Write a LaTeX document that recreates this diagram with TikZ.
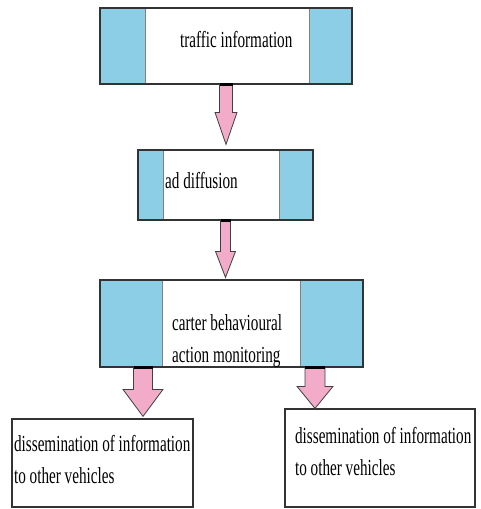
\documentclass[tikz,border=0pt]{standalone}
\usepackage{fontspec}
\setmainfont{Liberation Serif}
\usetikzlibrary{calc}

\definecolor{stripblue}{RGB}{140,206,230}
\definecolor{arrowpink}{RGB}{242,172,202}

\tikzset{
    box/.style={draw=black!80, line width=1.2pt, inner sep=0pt},
    strips/.style 2 args={path picture={
        \fill[stripblue] (path picture bounding box.north west) rectangle ([xshift=#1]path picture bounding box.south west);
        \fill[stripblue] (path picture bounding box.north east) rectangle ([xshift=-#2]path picture bounding box.south east);
        \draw[black!50, line width=1pt] ([xshift=#1]path picture bounding box.north west) -- ([xshift=#1]path picture bounding box.south west);
        \draw[black!50, line width=1pt] ([xshift=-#2]path picture bounding box.north east) -- ([xshift=-#2]path picture bounding box.south east);
    }},
    lbl/.style={font=\fontsize{23}{32}\selectfont, xscale=0.66, inner sep=0pt, anchor=base west, align=left},
    fat/.style={fill=arrowpink, draw=black!75, line width=0.8pt},
}

% block arrow: start, tip, half shaft, half head, head length
\newcommand\fatarrow[5]{%
    \draw[fat] ($(#1)+(-#3,0)$) -- ($(#2)+(-#3,-#5)$) -- ($(#2)+(-#4,-#5)$) -- (#2)
        -- ($(#2)+(#4,-#5)$) -- ($(#2)+(#3,-#5)$) -- ($(#1)+(#3,0)$) -- cycle;
    \draw[line width=2.5pt] ($(#1)+(-#3,0)$) -- ($(#1)+(#3,0)$);
}

\begin{document}
\begin{tikzpicture}[x=1pt, y=-1pt]
    \useasboundingbox (0,0) rectangle (481,509);

    % Boxes
    \node[box, strips={45pt}{43pt}, minimum width=252pt, minimum height=76pt] (info) at (226,46) {};
    \node[box, strips={25pt}{34pt}, minimum width=175pt, minimum height=70pt] (diff) at (225.5,185) {};
    \node[box, strips={62pt}{63pt}, minimum width=263pt, minimum height=87pt] (monitor) at (231.5,323.5) {};
    \node[box, minimum width=181pt, minimum height=88pt] (leftout) at (102.5,463) {};
    \node[box, minimum width=190pt, minimum height=98pt] (rightout) at (380,458) {};

    % Texts (base = last line)
    \node[lbl] (infotext) at (180,47) {traffic information};
    \node[lbl] (difftext) at (165,188) {ad diffusion};
    \node[lbl] (monitortext) at (172,362) {carter behavioural\\action monitoring};
    \node[lbl] (lefttext) at (14,483) {dissemination of information\\to other vehicles};
    \node[lbl] (righttext) at (295,475) {dissemination of information\\to other vehicles};

    % Arrows
    \coordinate (lx) at (143,0);
    \coordinate (rx) at (315,0);
    \fatarrow{info.south}{[yshift=5pt]diff.north -| info.south}{6.5}{11}{32}
    \fatarrow{diff.south}{[yshift=2pt]monitor.north -| diff.south}{5}{10}{26}
    \fatarrow{monitor.south -| lx}{[yshift=2pt]leftout.north -| lx}{9.5}{20}{27}
    \fatarrow{monitor.south -| rx}{rightout.north -| rx}{10}{18}{22}
\end{tikzpicture}
\end{document}
